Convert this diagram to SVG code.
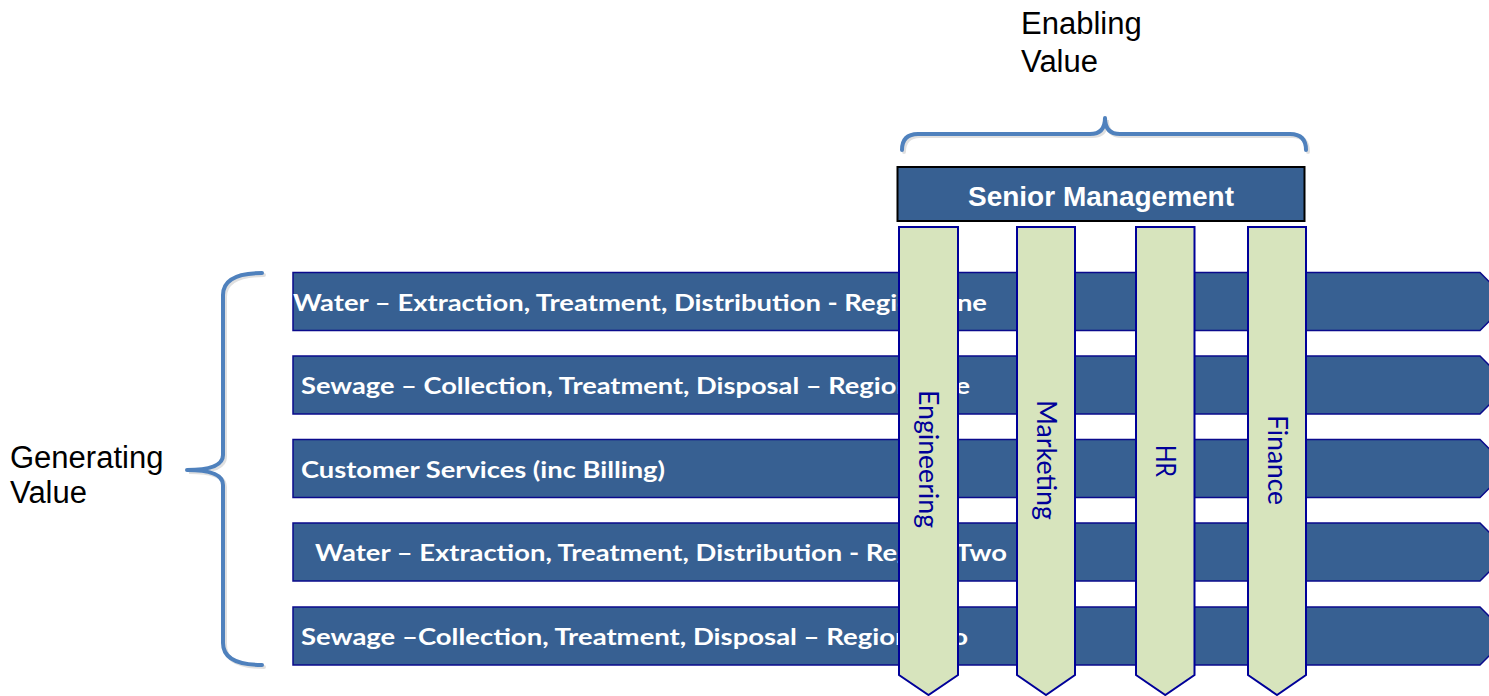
<svg xmlns="http://www.w3.org/2000/svg" width="1489" height="696" viewBox="0 0 1489 696">
<style>
.bar{fill:#376092;stroke:#0a0a8c;stroke-width:1.5}
.col{fill:#d7e4bd;stroke:#000099;stroke-width:2}
.bt{font-family:Lato,"Open Sans","Liberation Sans",sans-serif;font-weight:bold;font-size:23px;fill:#ffffff}
.ct{font-family:Lato,"Open Sans","Liberation Sans",sans-serif;font-size:27px;fill:#000099;text-anchor:middle}
.lab{font-family:"Liberation Sans",Arial,sans-serif;font-size:31px;fill:#000000}
.brace{fill:none;stroke:#4f81bd;stroke-width:4;stroke-linecap:round;stroke-linejoin:round}
.shadow{fill:none;stroke:#000000;stroke-opacity:0.12;stroke-width:4;stroke-linecap:round}
</style>
<rect width="1489" height="696" fill="#ffffff"/>

<g id="label-enabling">
<text class="lab" x="1021" y="34">Enabling</text>
<text class="lab" x="1021" y="72">Value</text>
</g>
<g id="label-generating">
<text class="lab" x="10" y="468">Generating</text>
<text class="lab" x="10" y="503">Value</text>
</g>

<g id="connectors">
<path class="shadow" d="M904,152 Q904,136 920,136 L1092,136 Q1107,136 1107,120 Q1107,136 1122,136 L1292,136 Q1308,136 1308,152"/>
<path class="brace" d="M902,150 Q902,134 918,134 L1090,134 Q1105,134 1105,118 Q1105,134 1120,134 L1290,134 Q1306,134 1306,150"/>
<path class="shadow" d="M264,275 Q225,275 225,297 L225,457 Q225,472 189,472 Q225,472 225,487 L225,645 Q225,667 264,667"/>
<path class="brace" d="M262,273 Q223,273 223,295 L223,455 Q223,470 187,470 Q223,470 223,485 L223,643 Q223,665 262,665"/>
</g>

<g id="senior-management">
<rect x="897.5" y="167" width="407" height="54" fill="#376092" stroke="#000000" stroke-width="2"/>
<text x="1101" y="205.5" text-anchor="middle" font-family="'Liberation Sans',Arial,sans-serif" font-weight="bold" font-size="28" fill="#ffffff">Senior Management</text>
</g>

<g id="bar-water-one">
<path class="bar" d="M293,272.5 H1480 L1509,301.5 L1480,330.5 H293 Z"/>
<text class="bt" x="293" y="310.5" textLength="694" lengthAdjust="spacingAndGlyphs">Water – Extraction, Treatment, Distribution - Region One</text>
</g>
<g id="bar-sewage-one">
<path class="bar" d="M293,356 H1480 L1509,385 L1480,414 H293 Z"/>
<text class="bt" x="301" y="394" textLength="669" lengthAdjust="spacingAndGlyphs">Sewage – Collection, Treatment, Disposal – Region One</text>
</g>
<g id="bar-customer">
<path class="bar" d="M293,439.5 H1480 L1509,468.5 L1480,497.5 H293 Z"/>
<text class="bt" x="301" y="477.5" textLength="364" lengthAdjust="spacingAndGlyphs">Customer Services (inc Billing)</text>
</g>
<g id="bar-water-two">
<path class="bar" d="M293,523 H1480 L1509,552 L1480,581 H293 Z"/>
<text class="bt" x="315" y="561" textLength="692" lengthAdjust="spacingAndGlyphs">Water – Extraction, Treatment, Distribution - Region Two</text>
</g>
<g id="bar-sewage-two">
<path class="bar" d="M293,607 H1480 L1509,636 L1480,665 H293 Z"/>
<text class="bt" x="301" y="645" textLength="667" lengthAdjust="spacingAndGlyphs">Sewage –Collection, Treatment, Disposal – Region Two</text>
</g>

<g id="col-engineering">
<path class="col" d="M899,227 H958 V675 L928.5,695 L899,675 Z"/>
<text class="ct" transform="translate(928.5,459) rotate(90)" y="9.5" textLength="138" lengthAdjust="spacingAndGlyphs">Engineering</text>
</g>
<g id="col-marketing">
<path class="col" d="M1017,227 H1075 V675 L1046,695 L1017,675 Z"/>
<text class="ct" transform="translate(1046,460) rotate(90)" y="9.5" textLength="120" lengthAdjust="spacingAndGlyphs">Marketing</text>
</g>
<g id="col-hr">
<path class="col" d="M1136,227 H1194.5 V675 L1165.25,695 L1136,675 Z"/>
<text class="ct" transform="translate(1165.25,461) rotate(90)" y="9.5" textLength="32" lengthAdjust="spacingAndGlyphs">HR</text>
</g>
<g id="col-finance">
<path class="col" d="M1248,227 H1306 V675 L1277,695 L1248,675 Z"/>
<text class="ct" transform="translate(1277,460) rotate(90)" y="9.5" textLength="90" lengthAdjust="spacingAndGlyphs">Finance</text>
</g>
</svg>
